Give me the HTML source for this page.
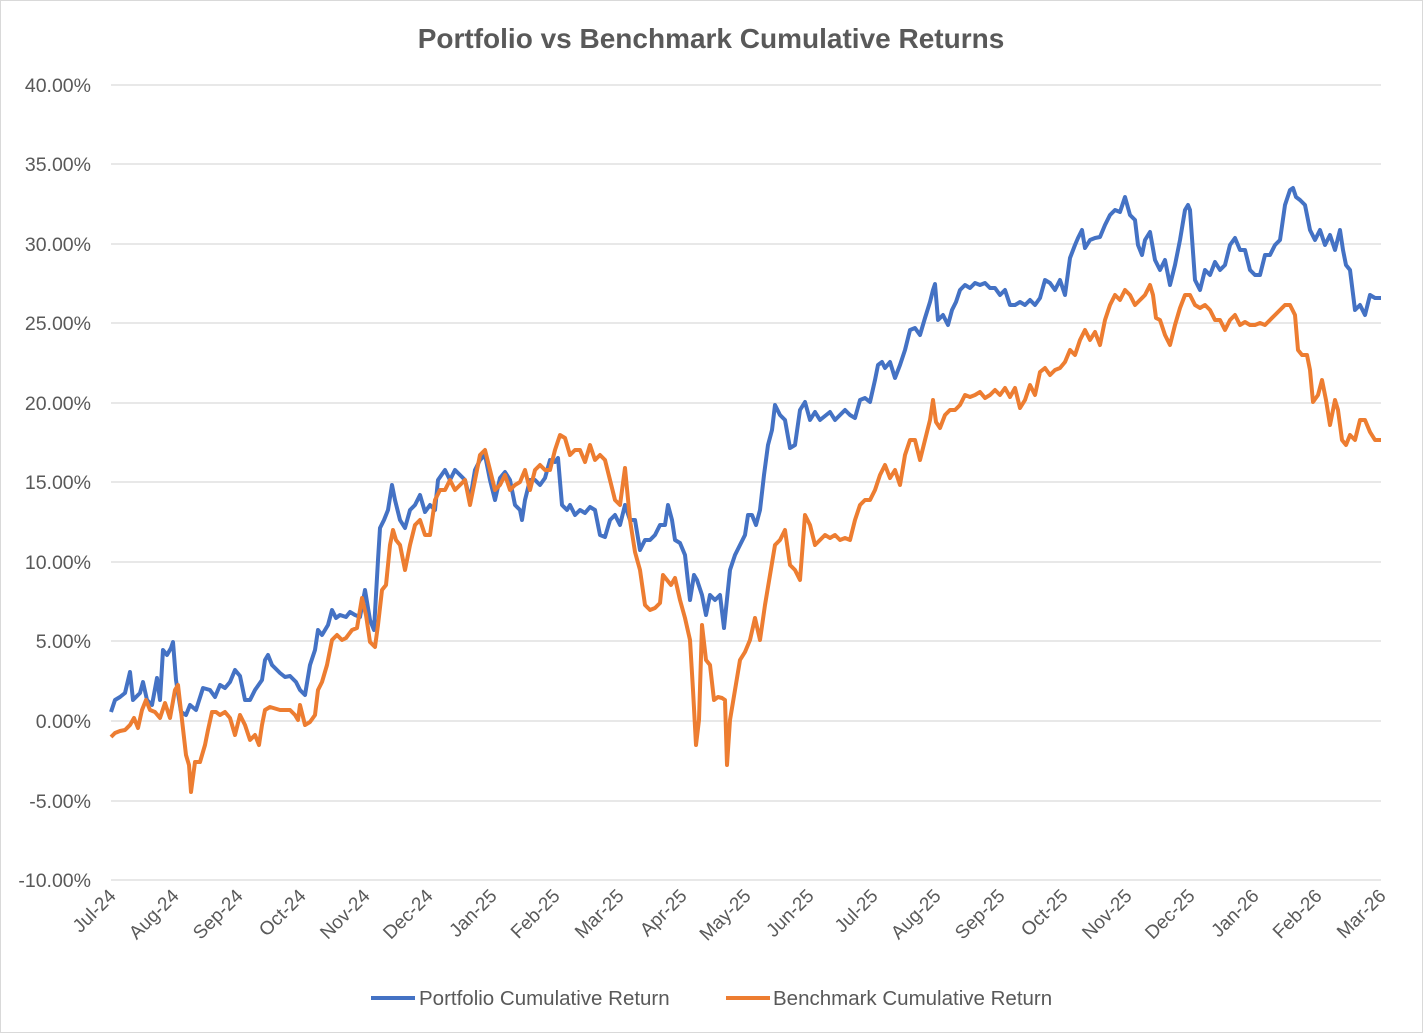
<!DOCTYPE html>
<html><head><meta charset="utf-8"><style>
html,body{margin:0;padding:0;background:#fff}
svg{display:block;font-family:"Liberation Sans",sans-serif}
</style></head><body>
<svg width="1423" height="1033" viewBox="0 0 1423 1033">
<rect x="0.5" y="0.5" width="1422" height="1032" fill="#fff" stroke="#d9d9d9"/>
<text x="711" y="48" text-anchor="middle" font-size="28" font-weight="bold" fill="#595959">Portfolio vs Benchmark Cumulative Returns</text>
<g stroke="#d9d9d9" stroke-width="1.3">
<line x1="111" x2="1381" y1="85" y2="85"/><line x1="111" x2="1381" y1="164" y2="164"/><line x1="111" x2="1381" y1="244" y2="244"/><line x1="111" x2="1381" y1="323" y2="323"/><line x1="111" x2="1381" y1="403" y2="403"/><line x1="111" x2="1381" y1="482" y2="482"/><line x1="111" x2="1381" y1="562" y2="562"/><line x1="111" x2="1381" y1="641" y2="641"/><line x1="111" x2="1381" y1="721" y2="721"/><line x1="111" x2="1381" y1="801" y2="801"/><line x1="111" x2="1381" y1="880" y2="880"/>
</g>
<g font-size="19.5" fill="#595959" text-anchor="end">
<text x="91" y="92">40.00%</text><text x="91" y="171">35.00%</text><text x="91" y="251">30.00%</text><text x="91" y="330">25.00%</text><text x="91" y="410">20.00%</text><text x="91" y="489">15.00%</text><text x="91" y="569">10.00%</text><text x="91" y="648">5.00%</text><text x="91" y="728">0.00%</text><text x="91" y="808">-5.00%</text><text x="91" y="887">-10.00%</text>
</g>
<g font-size="19" fill="#595959" text-anchor="end">
<text transform="translate(117,897) rotate(-45)">Jul-24</text>
<text transform="translate(180,897) rotate(-45)">Aug-24</text>
<text transform="translate(244,897) rotate(-45)">Sep-24</text>
<text transform="translate(307,897) rotate(-45)">Oct-24</text>
<text transform="translate(371,897) rotate(-45)">Nov-24</text>
<text transform="translate(434,897) rotate(-45)">Dec-24</text>
<text transform="translate(498,897) rotate(-45)">Jan-25</text>
<text transform="translate(561,897) rotate(-45)">Feb-25</text>
<text transform="translate(625,897) rotate(-45)">Mar-25</text>
<text transform="translate(688,897) rotate(-45)">Apr-25</text>
<text transform="translate(752,897) rotate(-45)">May-25</text>
<text transform="translate(815,897) rotate(-45)">Jun-25</text>
<text transform="translate(879,897) rotate(-45)">Jul-25</text>
<text transform="translate(942,897) rotate(-45)">Aug-25</text>
<text transform="translate(1006,897) rotate(-45)">Sep-25</text>
<text transform="translate(1069,897) rotate(-45)">Oct-25</text>
<text transform="translate(1133,897) rotate(-45)">Nov-25</text>
<text transform="translate(1196,897) rotate(-45)">Dec-25</text>
<text transform="translate(1260,897) rotate(-45)">Jan-26</text>
<text transform="translate(1323,897) rotate(-45)">Feb-26</text>
<text transform="translate(1387,897) rotate(-45)">Mar-26</text>
</g>
<polyline fill="none" stroke="#4472c4" stroke-width="4" stroke-linejoin="round" points="111,712 115,700 120,697 125,693 130,672 133,700 140,693 143,682 147,700 152,705 157,678 160,700 163,650 167,655 171,648 173,642 176,680 181,712 186,715 190,705 196,710 203,688 210,690 215,697 220,685 225,688 230,682 235,670 240,676 245,700 250,700 255,690 262,680 265,660 268,655 272,665 280,673 285,677 290,676 296,682 300,690 305,695 310,665 315,650 318,630 322,635 328,625 332,610 336,618 340,615 346,617 350,612 355,615 360,617 365,590 370,620 374,630 378,560 380,528 384,520 388,510 392,485 395,500 400,520 405,528 410,510 415,505 420,495 425,512 430,505 435,510 438,480 445,470 450,480 455,470 460,475 465,480 470,500 475,470 480,460 485,455 490,480 495,500 500,478 505,472 510,480 515,505 520,510 522,520 525,500 530,480 535,480 540,485 545,478 550,460 555,462 558,458 562,505 567,510 570,505 575,515 580,510 585,513 590,507 595,510 600,535 605,537 610,520 615,515 620,525 625,505 630,520 635,520 640,550 645,540 650,540 655,535 660,525 665,525 668,505 672,520 675,540 680,543 685,555 690,600 694,575 697,580 702,595 706,615 710,595 715,600 720,595 724,628 730,570 735,555 740,545 745,535 748,515 752,515 756,525 760,510 764,475 768,445 772,430 775,405 780,415 785,420 790,448 795,445 800,410 805,402 810,420 815,412 820,420 830,412 835,420 840,415 845,410 850,415 855,418 860,400 865,398 870,402 875,380 878,365 882,362 885,368 890,362 895,378 900,365 905,350 910,330 915,328 920,335 925,318 930,302 933,290 935,284 938,320 943,315 948,325 952,310 956,302 960,290 965,285 970,288 975,283 980,285 985,283 990,288 995,288 1000,295 1005,290 1010,305 1015,305 1020,302 1025,305 1030,300 1035,305 1040,298 1045,280 1050,283 1055,290 1060,280 1065,295 1070,258 1075,245 1078,238 1082,230 1085,248 1090,240 1095,238 1100,237 1105,225 1110,215 1115,210 1120,212 1125,197 1130,215 1135,220 1138,245 1142,255 1145,240 1150,232 1155,260 1160,270 1165,260 1170,285 1175,265 1180,240 1185,210 1188,205 1190,210 1195,280 1200,290 1205,270 1210,275 1215,262 1220,270 1225,265 1230,245 1235,238 1240,250 1245,250 1250,270 1255,275 1260,275 1265,255 1270,255 1275,245 1280,240 1285,205 1290,190 1293,188 1296,197 1300,200 1305,205 1310,230 1315,240 1320,230 1325,245 1330,235 1335,250 1340,230 1343,250 1346,265 1350,270 1355,310 1360,305 1365,315 1370,295 1375,298 1381,298"/>
<polyline fill="none" stroke="#ed7d31" stroke-width="4" stroke-linejoin="round" points="111,737 115,733 120,731 125,730 130,725 134,718 138,728 142,710 146,700 150,710 155,712 160,718 165,703 170,718 175,690 178,685 182,720 186,755 189,765 191,792 195,762 200,762 205,745 208,730 212,712 216,712 220,715 225,712 230,718 235,735 240,715 245,725 250,740 255,735 259,745 262,725 265,710 270,707 280,710 290,710 295,715 298,720 300,705 305,725 310,722 315,715 318,690 322,682 327,665 332,640 337,635 342,640 346,638 352,630 357,628 362,598 366,615 370,642 375,647 378,625 382,590 386,585 390,545 393,530 396,540 400,545 405,570 410,545 415,525 420,520 425,535 430,535 435,500 440,490 445,490 450,480 455,490 460,485 465,480 470,505 475,480 480,455 485,450 490,470 495,490 500,485 505,475 510,490 515,485 520,482 525,470 530,490 535,470 540,465 545,470 550,470 555,450 560,435 565,438 570,455 575,450 580,450 585,462 590,445 595,460 600,455 605,460 610,480 615,500 620,505 625,468 630,520 635,552 640,570 645,605 650,610 655,608 660,603 663,575 667,580 671,585 675,578 680,600 685,618 690,640 693,690 696,745 699,720 702,625 706,660 710,665 714,700 718,697 722,698 725,700 727,765 730,720 735,690 740,660 745,652 750,640 755,618 760,640 765,605 770,575 775,545 780,540 785,530 790,565 795,570 800,580 805,515 810,525 815,545 820,540 825,535 830,538 835,535 840,540 845,538 850,540 855,520 860,505 865,500 870,500 875,490 880,475 885,465 890,478 895,470 900,485 905,455 910,440 915,440 920,460 925,440 930,420 933,400 936,422 940,428 945,415 950,410 955,410 960,405 965,395 970,397 975,395 980,392 985,398 990,395 995,390 1000,395 1005,388 1010,397 1015,388 1020,408 1025,400 1030,385 1035,395 1040,372 1045,368 1050,375 1055,370 1060,368 1065,362 1070,350 1075,355 1080,340 1085,330 1090,340 1095,332 1100,345 1105,320 1110,305 1115,295 1120,300 1125,290 1130,295 1135,305 1140,300 1145,295 1150,285 1153,295 1156,318 1160,320 1165,335 1170,345 1175,325 1180,308 1185,295 1190,295 1195,305 1200,308 1205,305 1210,310 1215,320 1220,320 1225,330 1230,320 1235,315 1240,325 1245,322 1250,325 1255,325 1260,323 1265,325 1270,320 1275,315 1280,310 1285,305 1290,305 1295,315 1298,350 1302,355 1307,355 1310,370 1313,402 1318,395 1322,380 1326,400 1330,425 1335,400 1338,410 1342,440 1346,445 1350,435 1355,440 1360,420 1365,420 1370,432 1375,440 1381,440"/>
<line x1="371" x2="415" y1="998" y2="998" stroke="#4472c4" stroke-width="4"/>
<text x="419" y="1005" font-size="20.5" fill="#595959">Portfolio Cumulative Return</text>
<line x1="726" x2="770" y1="998" y2="998" stroke="#ed7d31" stroke-width="4"/>
<text x="773" y="1005" font-size="20.5" fill="#595959">Benchmark Cumulative Return</text>
</svg>
</body></html>
